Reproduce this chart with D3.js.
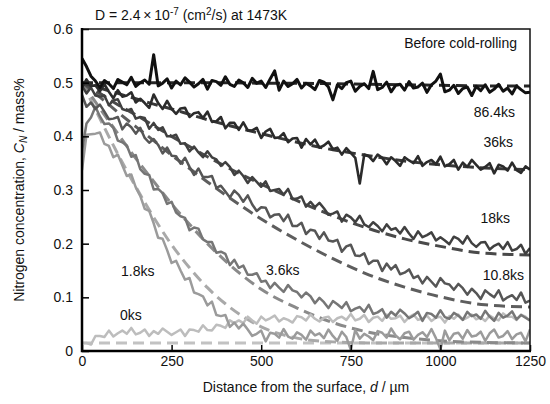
<!DOCTYPE html>
<html><head><meta charset="utf-8">
<script src="https://cdn.jsdelivr.net/npm/d3@7"></script>
<style>
body{margin:0;background:#fff;}
svg text{font-family:"Liberation Sans",Arial,sans-serif;font-size:14px;fill:#111;}
</style></head>
<body><svg id="chart" width="550" height="404"></svg>
<script>
// measured profiles, sampled every 12.5 µm from 0 to 1250 µm
const step = 12.5;
const s86 = [.545,.530,.512,.503,.491,.504,.498,.489,.506,.501,.496,.510,.493,.500,.505,.497,.552,.494,.499,.507,.490,.503,.496,.509,.501,.492,.498,.506,.488,.504,.502,.495,.511,.497,.493,.505,.500,.491,.508,.499,.503,.491,.507,.522,.486,.503,.493,.498,.506,.490,.499,.494,.487,.504,.501,.492,.468,.496,.489,.500,.503,.484,.493,.498,.489,.521,.487,.491,.501,.483,.495,.497,.486,.502,.490,.492,.499,.482,.496,.503,.516,.483,.486,.495,.480,.489,.492,.476,.493,.485,.496,.482,.488,.497,.484,.490,.479,.494,.487,.481,.482];
const s36 = [.491,.506,.494,.495,.484,.497,.483,.471,.486,.474,.476,.482,.463,.470,.462,.453,.478,.462,.451,.466,.451,.442,.452,.453,.436,.443,.445,.434,.446,.427,.428,.436,.415,.425,.425,.412,.426,.411,.411,.416,.397,.409,.414,.397,.398,.406,.389,.396,.397,.379,.395,.385,.394,.379,.383,.390,.376,.379,.366,.378,.369,.360,.312,.366,.363,.354,.366,.360,.348,.361,.354,.345,.361,.355,.350,.363,.345,.352,.356,.348,.362,.344,.348,.356,.338,.351,.343,.356,.347,.338,.343,.350,.331,.347,.344,.336,.351,.337,.332,.344,.338];
const s18 = [.494,.480,.491,.476,.474,.476,.458,.467,.469,.451,.448,.451,.433,.436,.434,.414,.425,.412,.417,.400,.400,.403,.386,.387,.372,.381,.370,.361,.372,.361,.357,.345,.352,.343,.328,.336,.326,.313,.324,.315,.306,.316,.298,.300,.302,.291,.302,.283,.284,.288,.269,.278,.268,.276,.266,.254,.256,.260,.241,.254,.249,.240,.252,.236,.231,.240,.233,.223,.236,.226,.229,.219,.231,.219,.209,.223,.212,.216,.221,.206,.212,.206,.199,.213,.209,.200,.214,.201,.194,.202,.203,.189,.196,.200,.190,.203,.187,.190,.198,.181,.192];
const s108 = [.477,.455,.463,.451,.459,.446,.432,.433,.436,.413,.424,.417,.405,.416,.397,.388,.395,.384,.368,.379,.364,.363,.349,.360,.343,.328,.340,.324,.324,.326,.304,.308,.297,.286,.299,.291,.278,.290,.273,.261,.268,.267,.249,.254,.255,.242,.254,.233,.233,.239,.218,.226,.224,.209,.221,.206,.204,.207,.185,.195,.198,.178,.177,.182,.162,.168,.168,.149,.163,.152,.160,.143,.146,.152,.136,.140,.126,.138,.129,.120,.136,.126,.124,.114,.125,.117,.105,.116,.108,.097,.113,.106,.100,.113,.094,.100,.104,.095,.109,.090,.094];
const s36k = [.372,.424,.435,.455,.437,.423,.424,.416,.392,.389,.383,.362,.365,.339,.330,.328,.301,.302,.294,.274,.278,.258,.251,.248,.225,.230,.228,.208,.203,.203,.183,.185,.181,.160,.170,.155,.159,.142,.142,.145,.129,.131,.117,.127,.118,.110,.123,.113,.110,.100,.109,.102,.089,.099,.091,.080,.093,.087,.080,.091,.074,.079,.082,.073,.086,.069,.072,.078,.062,.073,.066,.077,.070,.061,.066,.073,.056,.071,.069,.062,.076,.063,.060,.071,.066,.058,.073,.065,.068,.060,.075,.064,.056,.071,.062,.066,.074,.059,.067,.062,.057];
const s18k = [.337,.403,.404,.405,.407,.386,.382,.361,.366,.346,.326,.329,.305,.289,.265,.261,.238,.211,.209,.188,.164,.168,.150,.133,.136,.109,.106,.102,.085,.092,.067,.065,.067,.045,.053,.042,.051,.040,.028,.032,.038,.018,.034,.032,.025,.041,.027,.023,.035,.030,.021,.038,.029,.033,.024,.040,.028,.019,.036,.026,.002,.039,.023,.032,.027,.020,.037,.034,.025,.042,.029,.022,.033,.036,.021,.030,.035,.026,.041,.024,.003,.038,.020,.032,.034,.023,.039,.027,.029,.036,.019,.033,.040,.025,.028,.037,.022,.031,.034,.018,.040];
const s0k = [.015,.015,.012,.028,.028,.026,.038,.027,.033,.038,.032,.043,.031,.034,.040,.028,.037,.032,.042,.036,.030,.035,.040,.028,.040,.039,.036,.048,.039,.038,.049,.047,.043,.057,.052,.057,.052,.064,.057,.051,.064,.057,.061,.066,.055,.061,.058,.053,.065,.063,.057,.068,.060,.055,.062,.064,.054,.061,.064,.058,.069,.057,.060,.067,.054,.062,.064,.056,.068,.060,.061,.066,.054,.063,.068,.058,.060,.066,.056,.062,.064,.053,.065,.060,.068,.058,.062,.068,.059,.063,.056,.066,.061,.057,.070,.064,.064,.058,.068,.064,.056];

// calculated (dashed) profiles
const fitX = [0,50,100,150,200,250,300,350,400,500,600,700,800,900,1000,1125,1250];
const f86 = [.5,.5,.5,.5,.5,.5,.5,.5,.5,.499,.499,.498,.497,.496,.495,.494,.494];
const f36 = [.5,.490,.480,.470,.460,.451,.441,.431,.422,.405,.389,.375,.364,.354,.347,.341,.338];
const f18 = [.5,.480,.459,.440,.420,.400,.381,.362,.344,.311,.280,.252,.228,.209,.195,.182,.179];
const f108 = [.5,.473,.445,.418,.392,.365,.340,.315,.291,.246,.207,.172,.142,.119,.101,.086,.082];
const f36k = [.5,.452,.405,.359,.316,.274,.236,.200,.168,.115,.080,.053,.035,.025,.019,.016,.015];
const f18k = [.5,.433,.367,.306,.249,.198,.155,.118,.088,.045,.024,.017,.015,.015,.015,.015,.015];
const f0k = [.015,.015,.015,.015,.015,.015,.015,.015,.015,.015,.015,.015,.015,.015,.015,.015,.015];

const seriesNames = ["0ks","1.8ks","3.6ks","10.8ks","18ks","36ks","86.4ks"];
const measured = [s0k,s18k,s36k,s108,s18,s36,s86];
const fitted = [f0k,f18k,f36k,f108,f18,f36,f86];
const solidColors = ["#bdbdbd","#9b9b9b","#767676","#565656","#404040","#2b2b2b","#111111"];
const dashColors = ["#c2c2c2","#a9a9a9","#8a8a8a","#5e5e5e","#4a4a4a","#383838","#262626"];
const solidWidths = [2.5,2.5,2.5,2.5,2.5,2.6,3];

const xTicks = [0,250,500,750,1000,1250];
const yTicks = [0,0.1,0.2,0.3,0.4,0.5,0.6];

const svg = d3.select("#chart");
const L = 82, R = 530, T = 29, B = 351;
const x = d3.scaleLinear().domain([0,1250]).range([L,R]);
const y = d3.scaleLinear().domain([0,0.6]).range([B,T]);

svg.append("defs").append("clipPath").attr("id","clip")
  .append("rect").attr("x",L).attr("y",T).attr("width",R-L).attr("height",B-T);

const plot = svg.append("g").attr("clip-path","url(#clip)");
const line = d3.line().x(d=>x(d[0])).y(d=>y(d[1]));
const smooth = d3.line().x(d=>x(d[0])).y(d=>y(d[1])).curve(d3.curveMonotoneX);

measured.forEach((vals,i)=>{
  const fd = fitX.map((xx,j)=>[xx,fitted[i][j]]);
  plot.append("path").attr("d",smooth(fd)).attr("fill","none")
    .attr("stroke",dashColors[i]).attr("stroke-width",3).attr("stroke-dasharray","11,6");
});
measured.forEach((vals,i)=>{
  const md = vals.map((v,j)=>[j*step,v]);
  plot.append("path").attr("d",line(md)).attr("fill","none")
    .attr("stroke",solidColors[i]).attr("stroke-width",solidWidths[i]).attr("stroke-linejoin","round");
});

// axes
const xAxis = d3.axisBottom(x).tickValues(xTicks).tickSize(-6).tickPadding(5).tickFormat(d3.format("d"));
const gx = svg.append("g").attr("transform",`translate(0,${B})`).call(xAxis);
const yAxis = d3.axisLeft(y).tickValues(yTicks).tickSize(-7).tickPadding(9).tickFormat(d=>d===0?"0":d3.format(".1f")(d));
const gy = svg.append("g").attr("transform",`translate(${L},0)`).call(yAxis);
[gx,gy].forEach(g=>{
  g.select(".domain").remove();
  g.selectAll(".tick line").attr("stroke","#000").attr("stroke-width",1.5);
  g.selectAll(".tick text").style("font-size","14px").attr("fill","#111")
    .style("font-family","'Liberation Sans',Arial,sans-serif");
});

// frame
svg.append("rect").attr("x",L).attr("y",T).attr("width",R-L).attr("height",B-T)
  .attr("fill","none").attr("stroke","#111").attr("stroke-width",1.5);
svg.append("path").attr("d",`M${L},${T-1}V${B}H${R+1}`).attr("fill","none")
  .attr("stroke","#000").attr("stroke-width",2.5);

// title
const t = svg.append("text").attr("x",95).attr("y",20);
t.append("tspan").text("D = 2.4\u2009\u00d7\u200910");
t.append("tspan").attr("dy",-5).style("font-size","10px").text("-7");
t.append("tspan").attr("dy",5).text(" (cm");
t.append("tspan").attr("dy",-5).style("font-size","10px").text("2");
t.append("tspan").attr("dy",5).text("/s) at 1473K");

// axis titles
const xt = svg.append("text").attr("x",(L+R)/2).attr("y",392).attr("text-anchor","middle");
xt.append("tspan").text("Distance from the surface, ");
xt.append("tspan").style("font-style","italic").text("d");
xt.append("tspan").text(" / \u00b5m");

const yt = svg.append("text").attr("transform",`translate(24,${(T+B)/2}) rotate(-90)`).attr("text-anchor","middle");
yt.append("tspan").text("Nitrogen concentration, ");
yt.append("tspan").style("font-style","italic").text("C");
yt.append("tspan").style("font-style","italic").style("font-size","10px").attr("dy",3).text("N");
yt.append("tspan").attr("dy",-3).text(" / mass%");

// annotations
const labels = [
  {t:"Before cold-rolling", x:517, y:48, a:"end"},
  {t:"86.4ks", x:515, y:117, a:"end"},
  {t:"36ks", x:513, y:147, a:"end"},
  {t:"18ks", x:510, y:223, a:"end"},
  {t:"10.8ks", x:524, y:280, a:"end"},
  {t:"3.6ks", x:266, y:275, a:"start"},
  {t:"1.8ks", x:121, y:276, a:"start"},
  {t:"0ks", x:120, y:320, a:"start"}
];
svg.selectAll("text.lab").data(labels).enter().append("text").attr("class","lab")
  .attr("x",d=>d.x).attr("y",d=>d.y).attr("text-anchor",d=>d.a).text(d=>d.t);
</script></body></html>
